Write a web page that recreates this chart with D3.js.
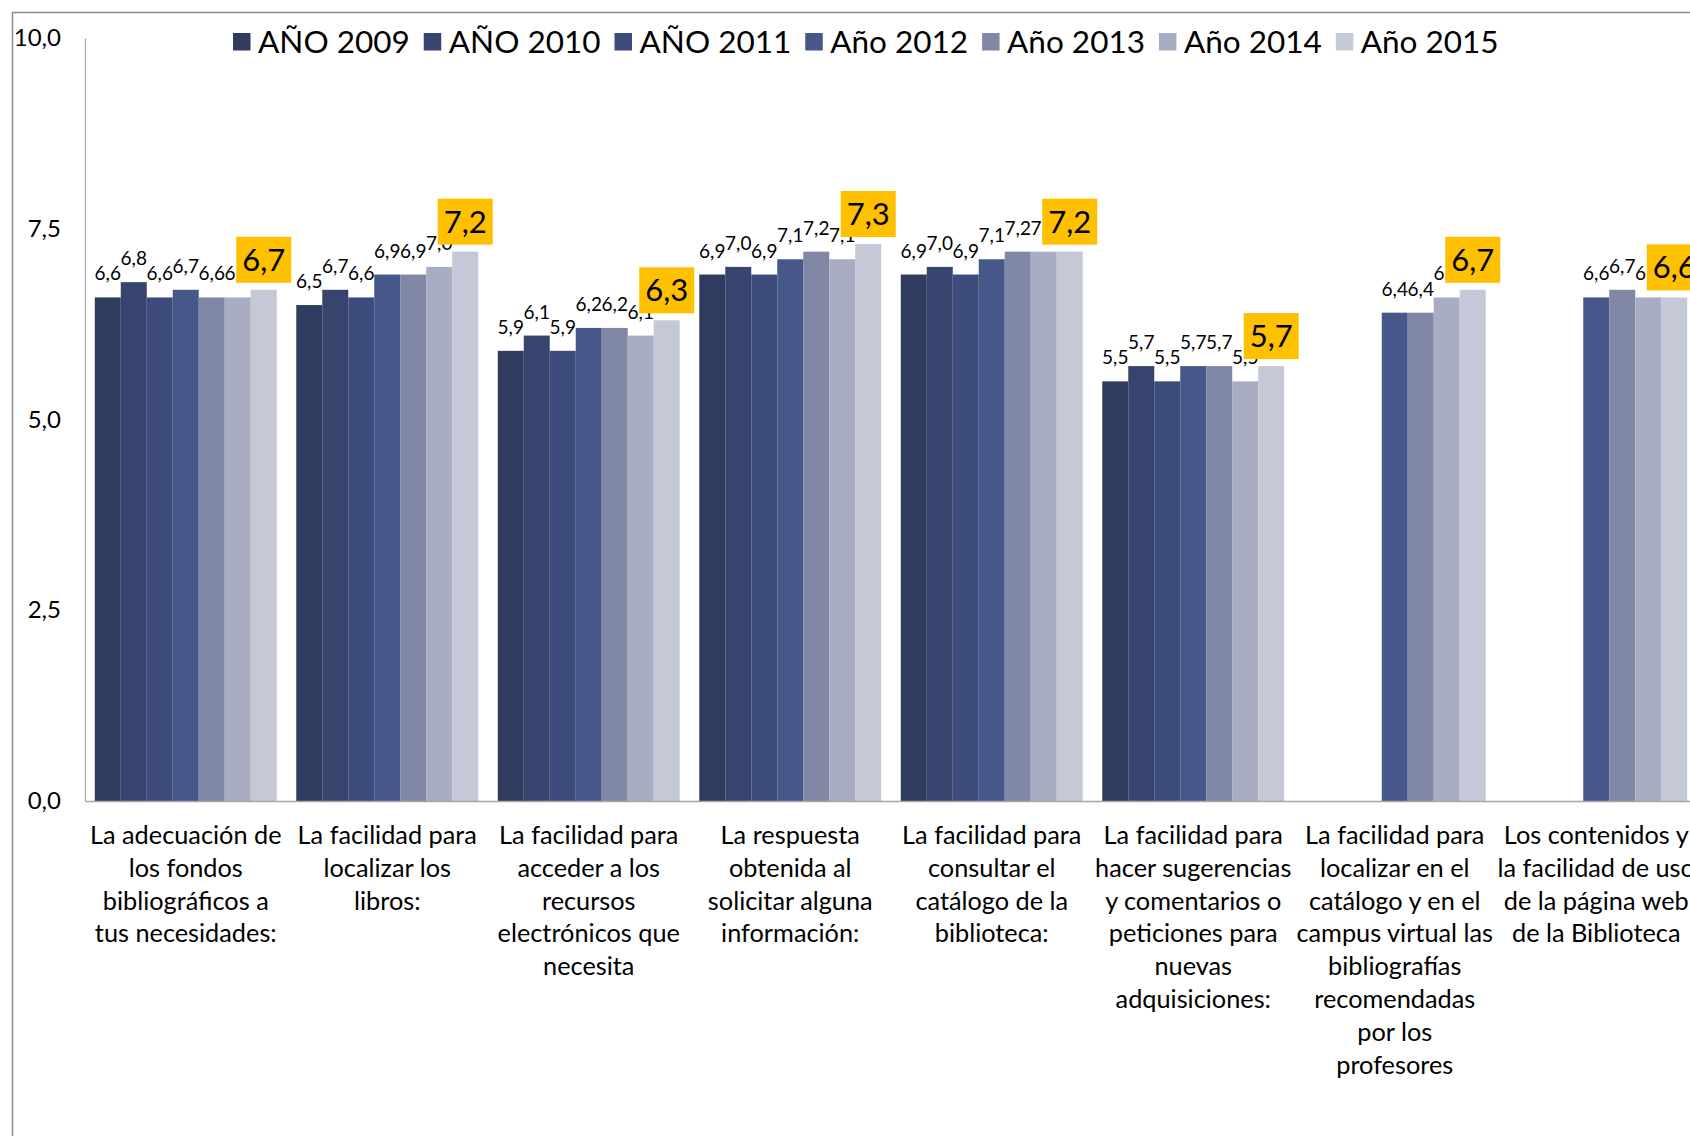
<!DOCTYPE html>
<html>
<head>
<meta charset="utf-8">
<script src="https://cdn.jsdelivr.net/npm/d3@7"></script>
<style>
  html, body { margin: 0; padding: 0; background: #fff; }
  svg { display: block; }
  text { font-family: Lato, "Open Sans", sans-serif; fill: #000; }
</style>
</head>
<body>
<svg id="chart" width="1690" height="1136"></svg>
<script>
// ---- Data ----
const categories = [
  "La adecuación de\nlos fondos\nbibliográficos a\ntus necesidades:",
  "La facilidad para\nlocalizar los\nlibros:",
  "La facilidad para\nacceder a los\nrecursos\nelectrónicos que\nnecesita",
  "La respuesta\nobtenida al\nsolicitar alguna\ninformación:",
  "La facilidad para\nconsultar el\ncatálogo de la\nbiblioteca:",
  "La facilidad para\nhacer sugerencias\ny comentarios o\npeticiones para\nnuevas\nadquisiciones:",
  "La facilidad para\nlocalizar en el\ncatálogo y en el\ncampus virtual las\nbibliografías\nrecomendadas\npor los\nprofesores",
  "Los contenidos y\nla facilidad de uso\nde la página web\nde la Biblioteca"
];
const seriesNames = ["AÑO 2009", "AÑO 2010", "AÑO 2011", "Año 2012", "Año 2013", "Año 2014", "Año 2015"];
const year2009 = [6.6, 6.5, 5.9, 6.9, 6.9, 5.5, null, null];
const year2010 = [6.8, 6.7, 6.1, 7.0, 7.0, 5.7, null, null];
const year2011 = [6.6, 6.6, 5.9, 6.9, 6.9, 5.5, null, null];
const year2012 = [6.7, 6.9, 6.2, 7.1, 7.1, 5.7, 6.4, 6.6];
const year2013 = [6.6, 6.9, 6.2, 7.2, 7.2, 5.7, 6.4, 6.7];
const year2014 = [6.6, 7.0, 6.1, 7.1, 7.2, 5.5, 6.6, 6.6];
const year2015 = [6.7, 7.2, 6.3, 7.3, 7.2, 5.7, 6.7, 6.6];
const seriesValues = [year2009, year2010, year2011, year2012, year2013, year2014, year2015];
const yTicks = [0, 2.5, 5, 7.5, 10];
const colors = ["#2f3b5f", "#36446e", "#3d4c7d", "#46578a", "#8188a6", "#a8adc3", "#c5c8d6"];

// ---- Layout ----
const svg = d3.select("#chart");
const W = 1690, H = 1136;
const mLeft = 85, mTop = 38, mBottom = 801;
const bandW = 201.5;

const locale = d3.formatLocale({decimal: ",", thousands: ".", grouping: [3], currency: ["", "€"]});
const fmt = locale.format(".1f");

const x0 = d3.scaleBand().domain(d3.range(categories.length))
  .range([mLeft, mLeft + bandW * categories.length]).paddingInner(0.097).paddingOuter(0.0485);
const x1 = d3.scaleBand().domain(d3.range(seriesNames.length)).range([0, x0.bandwidth()]);
const y = d3.scaleLinear().domain([0, 10]).range([mBottom, mTop]);

// frame
svg.append("path").attr("d", `M12.5,${H} V12.5 H${W}`)
  .attr("fill", "none").attr("stroke", "#8c8c8c").attr("stroke-width", 1.5);

// bars
const groups = svg.append("g").selectAll("g").data(categories).join("g")
  .attr("transform", (d, i) => `translate(${x0(i)},0)`);
groups.selectAll("rect")
  .data((d, i) => seriesValues.map((s, j) => ({s: j, v: s[i]})).filter(e => e.v != null))
  .join("rect")
  .attr("x", d => x1(d.s)).attr("width", x1.bandwidth())
  .attr("y", d => y(d.v)).attr("height", d => y(0) - y(d.v))
  .attr("fill", d => colors[d.s]);

// y axis
const yAxis = d3.axisLeft(y).tickValues(yTicks).tickFormat(fmt).tickSize(0).tickPadding(24);
const ga = svg.append("g").attr("transform", `translate(${mLeft},0)`).call(yAxis);
ga.select(".domain").attr("stroke", "#a6a6a6").attr("stroke-width", 1.2);
ga.selectAll("text").attr("font-size", 24).attr("font-family", "Lato").attr("fill", "#000");

// baseline
const xAxis = d3.axisBottom(x0).tickSize(0).tickFormat("");
const gx = svg.append("g").attr("transform", `translate(0,${mBottom})`).call(xAxis);
gx.select(".domain").attr("stroke", "#a6a6a6").attr("stroke-width", 1.5);

// category labels
const catG = svg.append("g");
categories.forEach((c, i) => {
  const cx = x0(i) + x0.bandwidth() / 2;
  const t = catG.append("text").attr("text-anchor", "middle")
    .attr("font-size", 25.3).attr("x", cx).attr("y", 844);
  c.split("\n").forEach((line, k) => {
    t.append("tspan").attr("x", cx).attr("dy", k === 0 ? 0 : 32.8).text(line);
  });
});

// data labels (non-highlighted)
const last = seriesNames.length - 1;
groups.selectAll("text.lbl")
  .data((d, i) => seriesValues.map((s, j) => ({s: j, v: s[i]})).filter(e => e.v != null && e.s !== last))
  .join("text").attr("class", "lbl")
  .attr("text-anchor", "middle").attr("font-size", 19)
  .attr("x", d => x1(d.s) + x1.bandwidth() / 2)
  .attr("y", d => y(d.v) - 17)
  .text(d => fmt(d.v));

// highlighted labels (2015)
groups.each(function(d, i) {
  const v = seriesValues[last][i];
  if (v == null) return;
  const g = d3.select(this).append("g");
  const cx = x1(last) + x1.bandwidth() / 2;
  const rect = g.append("rect").attr("fill", "#ffc000");
  const t = g.append("text").attr("text-anchor", "middle").attr("font-size", 31)
    .attr("x", cx).attr("y", y(v) - 7 - 12).text(fmt(v));
  const bb = t.node().getBBox();
  const bh = 46, bw = bb.width + 12;
  rect.attr("x", cx - bw / 2).attr("width", bw)
    .attr("y", y(v) - 7 - bh).attr("height", bh);
});

// legend
const lg = svg.append("g").attr("transform", "translate(233,0)");
let lx = 0;
seriesNames.forEach((name, j) => {
  lg.append("rect").attr("x", lx).attr("y", 33).attr("width", 17.5).attr("height", 17.5).attr("fill", colors[j]);
  const t = lg.append("text").attr("x", lx + 25).attr("y", 52.5).attr("font-size", 31.5).text(name);
  lx += 25 + t.node().getComputedTextLength() + 14;
});
</script>
</body>
</html>
